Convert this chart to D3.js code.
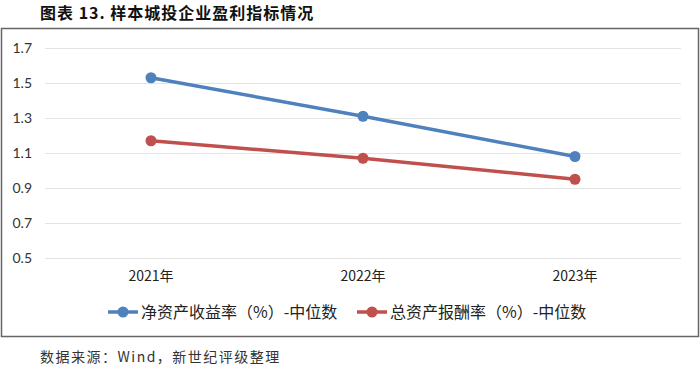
<!DOCTYPE html>
<html>
<head>
<meta charset="utf-8">
<script src="https://cdn.jsdelivr.net/npm/d3@7"></script>
<style>
  body { margin: 0; background: #fff; }
  svg { display: block; }
</style>
</head>
<body>
<div id="chart"></div>
<script>
// data
var years = ["2021年", "2022年", "2023年"];
var roe = [1.53, 1.31, 1.08];
var roa = [1.17, 1.07, 0.95];
var yTicks = [0.5, 0.7, 0.9, 1.1, 1.3, 1.5, 1.7];
var seriesNames = ["净资产收益率（%）-中位数", "总资产报酬率（%）-中位数"];
var seriesColors = ["#4F81BD", "#C0504D"];

var width = 700, height = 370;
var cjk = "'Noto Sans CJK SC', sans-serif";
var latin = "Lato, 'Noto Sans', sans-serif";

var svg = d3.select("#chart")
  .append("svg")
  .attr("width", width)
  .attr("height", height);

// title
svg.append("text")
  .attr("x", 40)
  .attr("y", 19)
  .style("font-family", cjk)
  .style("font-weight", "bold")
  .style("font-size", "16px")
  .style("letter-spacing", "1px")
  .style("fill", "#111")
  .text("图表 13. 样本城投企业盈利指标情况");

// frame
svg.append("rect")
  .attr("x", 1.5)
  .attr("y", 28.5)
  .attr("width", 697)
  .attr("height", 308)
  .style("fill", "none")
  .style("stroke", "#666")
  .style("stroke-width", 1.5);

var x = d3.scaleBand()
  .domain(years)
  .range([45, 681]);

var y = d3.scaleLinear()
  .domain([0.5, 1.7])
  .range([258, 48]);

// gridlines
svg.append("g")
  .selectAll("line")
  .data(yTicks)
  .join("line")
  .attr("x1", 45)
  .attr("x2", 681)
  .attr("y1", function(d) { return Math.round(y(d)) + 0.5; })
  .attr("y2", function(d) { return Math.round(y(d)) + 0.5; })
  .style("stroke", "#e3e3e3")
  .style("stroke-width", 1.2);

// y axis labels
var yAxis = svg.append("g")
  .attr("transform", "translate(32,0)")
  .call(d3.axisLeft(y).tickValues(yTicks).tickFormat(d3.format(".1f")).tickSize(0).tickPadding(0));
yAxis.select(".domain").remove();
yAxis.selectAll("text")
  .style("font-family", latin)
  .style("font-size", "14px")
  .style("fill", "#333");

// x axis labels
var xAxis = svg.append("g")
  .attr("transform", "translate(0,271)")
  .call(d3.axisBottom(x).tickSize(0).tickPadding(0));
xAxis.select(".domain").remove();
xAxis.selectAll("text")
  .style("font-family", cjk)
  .style("font-size", "14px")
  .style("fill", "#222");

var line = d3.line()
  .x(function(d, i) { return x(years[i]) + x.bandwidth() / 2; })
  .y(function(d) { return y(d); });

[roe, roa].forEach(function(vals, k) {
  svg.append("path")
    .datum(vals)
    .attr("d", line)
    .style("fill", "none")
    .style("stroke", seriesColors[k])
    .style("stroke-width", 3.5);

  svg.append("g")
    .selectAll("circle")
    .data(vals)
    .join("circle")
    .attr("cx", function(d, i) { return x(years[i]) + x.bandwidth() / 2; })
    .attr("cy", function(d) { return y(d); })
    .attr("r", 5.5)
    .style("fill", seriesColors[k]);
});

// legend
var legendX = [108, 357];
seriesNames.forEach(function(name, k) {
  var g = svg.append("g")
    .attr("transform", "translate(" + legendX[k] + ",312)");
  g.append("line")
    .attr("x1", 0)
    .attr("x2", 30)
    .style("stroke", seriesColors[k])
    .style("stroke-width", 3.5);
  g.append("circle")
    .attr("cx", 15)
    .attr("r", 5.5)
    .style("fill", seriesColors[k]);
  g.append("text")
    .attr("x", 33)
    .attr("y", 5.5)
    .style("font-family", cjk)
    .style("font-size", "16px")
    .style("fill", "#222")
    .text(name);
});

// source
svg.append("text")
  .attr("x", 40)
  .attr("y", 362)
  .style("font-family", cjk)
  .style("font-size", "14px")
  .style("letter-spacing", "1.5px")
  .style("fill", "#333")
  .text("数据来源：Wind，新世纪评级整理");
</script>
</body>
</html>
